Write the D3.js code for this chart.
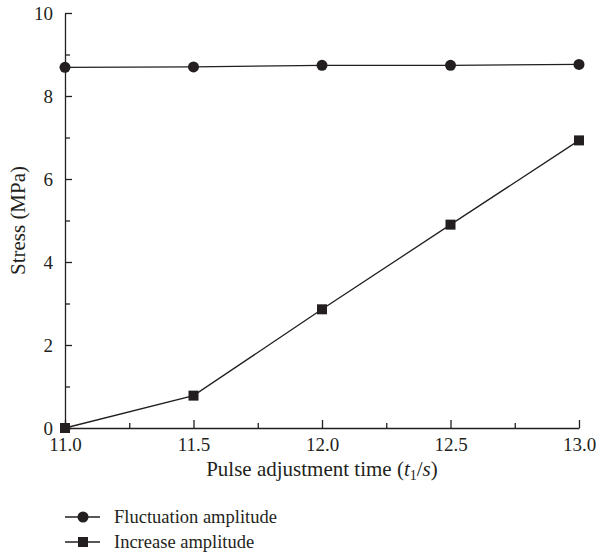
<!DOCTYPE html>
<html>
<head>
<meta charset="utf-8">
<script src="https://cdn.jsdelivr.net/npm/d3@7/dist/d3.min.js"></script>
<style>
  html, body { margin: 0; padding: 0; background: #fff; }
  svg { display: block; }
  text { font-family: "Liberation Serif", "DejaVu Serif", serif; fill: #231f20; }
</style>
</head>
<body>
<svg id="chart" width="599" height="554"></svg>
<script>
const times = [11.0, 11.5, 12.0, 12.5, 13.0];
const fluctuation = [8.69, 8.70, 8.74, 8.74, 8.76];
const increase = [0.0, 0.78, 2.86, 4.90, 6.93];
const xMajorTicks = [11.0, 11.5, 12.0, 12.5, 13.0];
const xMinorTicks = [11.25, 11.75, 12.25, 12.75];
const yMajorTicks = [0, 2, 4, 6, 8, 10];
const yMinorTicks = [1, 3, 5, 7, 9];
const seriesNames = ["Fluctuation amplitude", "Increase amplitude"];

const ink = "#231f20";
const svg = d3.select("#chart");
const x = d3.scaleLinear().domain([11, 13]).range([65, 579]);
const y = d3.scaleLinear().domain([0, 10]).range([428, 13]);

// axes
const gx = svg.append("g").attr("transform", `translate(0,${y(0)})`);
gx.call(d3.axisBottom(x).tickValues(xMajorTicks).tickFormat(d3.format(".1f"))
  .tickSizeInner(-8).tickSizeOuter(0).tickPadding(10));
const gxm = svg.append("g").attr("transform", `translate(0,${y(0)})`);
gxm.call(d3.axisBottom(x).tickValues(xMinorTicks).tickFormat("").tickSizeInner(-5).tickSizeOuter(0));
gxm.select(".domain").remove();

const gy = svg.append("g").attr("transform", `translate(${x(11)},0)`);
gy.call(d3.axisLeft(y).tickValues(yMajorTicks).tickFormat(d3.format("d"))
  .tickSizeInner(-7).tickSizeOuter(0).tickPadding(12));
const gym = svg.append("g").attr("transform", `translate(${x(11)},0)`);
gym.call(d3.axisLeft(y).tickValues(yMinorTicks).tickFormat("").tickSizeInner(-5).tickSizeOuter(0));
gym.select(".domain").remove();

svg.selectAll(".domain, .tick line").attr("stroke", ink).attr("stroke-width", 1.3);
svg.selectAll(".tick text").style("font-family", '"Liberation Serif", serif')
  .style("font-size", "19px").attr("fill", ink);

// axis titles
const xt = svg.append("text").attr("x", (x(11) + x(13)) / 2).attr("y", 476).attr("text-anchor", "middle")
  .style("font-size", "21px");
xt.append("tspan").text("Pulse adjustment time (");
xt.append("tspan").attr("font-style", "italic").text("t");
xt.append("tspan").attr("font-size", "14px").attr("dy", 4).text("1");
xt.append("tspan").attr("dy", -4).text("/");
xt.append("tspan").attr("font-style", "italic").text("s");
xt.append("tspan").text(")");

svg.append("text").attr("transform", `translate(25,${y(5)}) rotate(-90)`)
  .attr("text-anchor", "middle").style("font-size", "21px").text("Stress (MPa)");

// lines
const line = d3.line().x((d, i) => x(times[i])).y(d => y(d));
[fluctuation, increase].forEach(s => {
  svg.append("path").datum(s).attr("d", line).attr("fill", "none")
    .attr("stroke", ink).attr("stroke-width", 1.3);
});

// markers
svg.selectAll("circle.f").data(fluctuation).enter().append("circle")
  .attr("cx", (d, i) => x(times[i])).attr("cy", d => y(d)).attr("r", 5.5).attr("fill", ink);
const sq = 10;
svg.selectAll("rect.i").data(increase).enter().append("rect")
  .attr("x", (d, i) => x(times[i]) - sq / 2).attr("y", d => y(d) - sq / 2)
  .attr("width", sq).attr("height", sq).attr("fill", ink);

// legend
const legY = [517, 542];
seriesNames.forEach((name, k) => {
  const g = svg.append("g").attr("transform", `translate(0,${legY[k]})`);
  g.append("line").attr("x1", 65).attr("x2", 100).attr("stroke", ink).attr("stroke-width", 1.3);
  if (k === 0) g.append("circle").attr("cx", 83).attr("r", 5.5).attr("fill", ink);
  else g.append("rect").attr("x", 83 - sq / 2).attr("y", -sq / 2).attr("width", sq).attr("height", sq).attr("fill", ink);
  g.append("text").attr("x", 114).attr("y", 6).style("font-size", "18.5px").text(name);
});
</script>
</body>
</html>
